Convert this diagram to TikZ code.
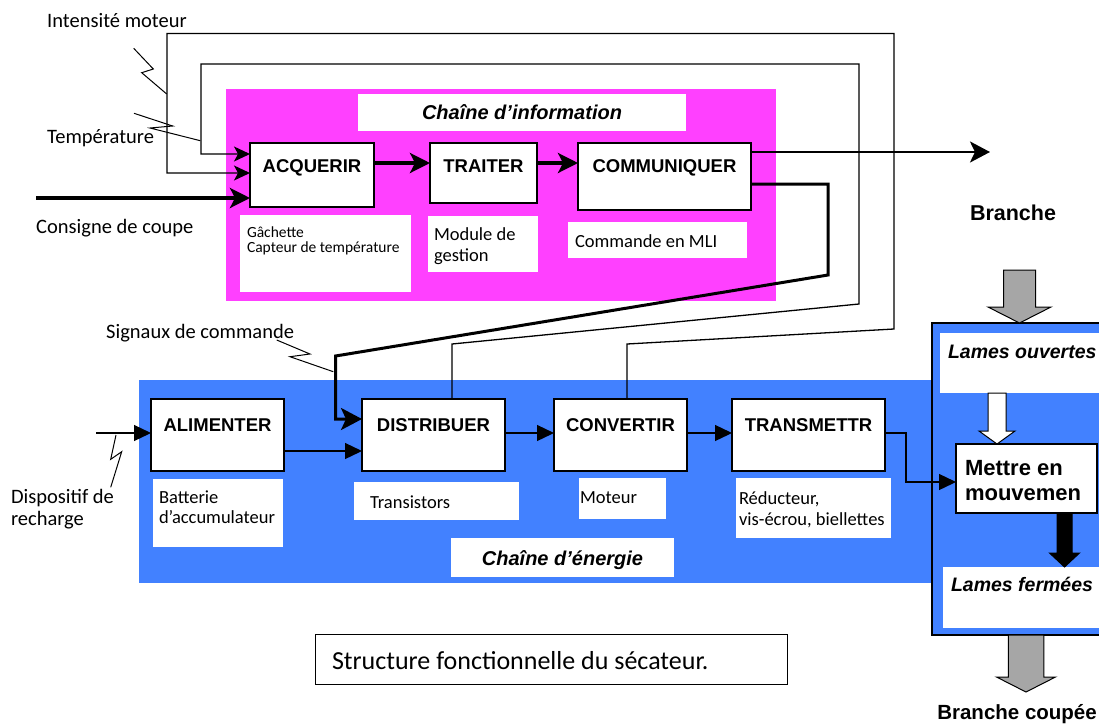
\documentclass[tikz,border=0pt]{standalone}
\usepackage{fontspec}
\setmainfont{Carlito}
\newfontfamily\arialfont{Liberation Sans}
\usepackage{tikz}
\usetikzlibrary{arrows.meta,positioning,calc}
\definecolor{infopink}{HTML}{FF40FF}
\definecolor{energyblue}{HTML}{4281FF}
\definecolor{flowgray}{HTML}{A6A6A6}
\newcommand{\fctfont}{\arialfont\bfseries\fontsize{18.5}{22}\selectfont}
\newcommand{\chainfont}{\arialfont\bfseries\itshape\fontsize{20}{24}\selectfont}
\newcommand{\lamefont}{\arialfont\bfseries\itshape\fontsize{19.5}{23}\selectfont}
\newcommand{\notefont}{\fontsize{18.5}{21}\selectfont}
\newcommand{\lblfont}{\fontsize{20.5}{22}\selectfont}
\newcommand{\blockarrow}[6]{%
  \draw[blockline,fill=#1] let \p1=(#2), \p2=(#3) in
    (\x2-#4,\y1) -- (\x2+#4,\y1) -- (\x2+#4,\y2+#6) -- (\x2+#5,\y2+#6)
    -- (\x2,\y2) -- (\x2-#5,\y2+#6) -- (\x2-#4,\y2+#6) -- cycle;}
\tikzset{
  panel/.style={inner sep=0pt,outer sep=0pt,anchor=north west},
  fctbox/.style n args={3}{draw,fill=white,line width=1.3pt,inner sep=0pt,outer sep=0pt,anchor=north west,font=\fctfont,minimum width=#1,text height=#2,text depth=#3},
  chaintitle/.style n args={3}{fill=white,inner sep=0pt,outer sep=0pt,anchor=north west,font=\chainfont,minimum width=#1,text height=#2,text depth=#3},
  note/.style n args={4}{fill=white,inner sep=0pt,outer sep=0pt,anchor=north west,font=\notefont,
    execute at begin node={\begin{minipage}[t][#2][t]{#1}\raggedright\leftskip=#4\relax\rule{0pt}{#3}},
    execute at end node={\end{minipage}}},
  lbl/.style={inner sep=0pt,anchor=base west,font=\lblfont},
  wire/.style={line width=1.3pt},
  arrow/.style={wire,-{Stealth[length=16pt,width=15pt,inset=4pt]}},
  bigarrow/.style={line width=3.5pt,-{Stealth[length=20pt,width=20pt,inset=5pt]}},
  powarrow/.style={wire,-{Triangle[length=17pt,width=16pt]}},
  zigzag/.style={line width=1pt},
  blockline/.style={draw=black,line width=1pt},
}
\begin{document}
\begin{tikzpicture}[x=1pt,y=-1pt]
  \useasboundingbox (0,0) rectangle (1099,726);
  \node[panel,fill=infopink,minimum width=550pt,minimum height=212pt] (infochain) at (226,89) {};
  \node[panel,fill=energyblue,minimum width=793pt,minimum height=203pt] (energychain) at (139,380) {};
  \node[panel,draw,line width=1.3pt,fill=energyblue,minimum width=175pt,minimum height=312pt] (rbox) at (932,323) {};
  \node[chaintitle={328pt}{25.3pt}{11.7pt}] (infotitle) at (358,94) {Chaîne d’information};
  \node[chaintitle={223pt}{27pt}{12pt}] (energytitle) at (451,538) {Chaîne d’énergie};

  \node[fctbox={124pt}{29pt}{35pt}] (acq) at (250,143) {ACQUERIR};
  \node[fctbox={107pt}{29pt}{31pt},right=56pt of acq.north east,anchor=north west] (trait) {TRAITER};
  \node[fctbox={173pt}{29pt}{38pt},right=41pt of trait.north east,anchor=north west] (comm) {COMMUNIQUER};
  \node[fctbox={133pt}{32pt}{40pt}] (alim) at (151,399) {ALIMENTER};
  \node[fctbox={143pt}{32pt}{40pt},right=78pt of alim.north east,anchor=north west] (distr) {DISTRIBUER};
  \node[fctbox={133pt}{32pt}{40pt},right=49pt of distr.north east,anchor=north west] (conv) {CONVERTIR};
  \node[fctbox={153pt}{32pt}{40pt},right=45pt of conv.north east,anchor=north west] (transm) {TRANSMETTR};

  \node[note={171pt}{77pt}{22.3pt}{7pt},font=\fontsize{15.5}{15.5}\selectfont] (gach) at (240,215) {Gâchette\\Capteur de température};
  \node[note={110pt}{56pt}{24pt}{6pt}] (modu) at (428,216) {Module de\\gestion};
  \node[note={179pt}{36pt}{25pt}{7pt}] (mli) at (568,222) {Commande en MLI};
  \node[note={130pt}{68pt}{24pt}{6pt},font=\fontsize{18.5}{20}\selectfont] (batt) at (153,479) {Batterie\\d’accumulateur};
  \node[note={165pt}{38pt}{26.3pt}{16pt}] (trans) at (354,482) {Transistors};
  \node[note={87pt}{41pt}{25.3pt}{1pt}] (mot) at (579,478) {Moteur};
  \node[note={155pt}{60pt}{26pt}{3pt}] (redu) at (736,478) {Réducteur,\\vis-écrou, biellettes};
  \node[note={165pt}{60pt}{25pt}{8pt},font=\lamefont] (ouv) at (940,333) {Lames ouvertes};
  \node[note={156pt}{61pt}{24pt}{8pt},font=\lamefont] (ferm) at (943,567) {Lames fermées};
  \node[note={141pt}{69pt}{31.5pt}{9pt},draw,line width=1.3pt,font=\arialfont\bfseries\fontsize{22}{25}\selectfont] (mettre) at (956,444) {Mettre en\\mouvemen};
  \node[note={140pt}{50pt}{23pt}{0pt},fill=none,font=\lblfont] (recharge) at (11,480) {Dispositif de\\recharge};
  \node[note={472pt}{50pt}{35pt}{17pt},draw,line width=1pt,font=\fontsize{26}{30}\selectfont] (caption) at (315,634) {Structure fonctionnelle du sécateur.};

  \node[lbl] (intens) at (47,27) {Intensité moteur};
  \node[lbl] (temp) at (47,143) {Température};
  \node[lbl] (consigne) at (36,233) {Consigne de coupe};
  \node[lbl] (signaux) at (106,338) {Signaux de commande};
  \node[lbl,anchor=base,font=\arialfont\bfseries\fontsize{21.5}{24}\selectfont] (branche) at (1013,220) {Branche};
  \node[lbl,anchor=base east,font=\arialfont\bfseries\fontsize{20.5}{24}\selectfont] (coupee) at (1097,719.5) {Branche coupée};

  \coordinate (consignein) at (36,198);
  \coordinate (out) at (990,152);
  \coordinate (rechargein) at (96,433);
  \coordinate (branchein) at (1019,270);
  \coordinate (coupeeout) at (1026,692);

  \draw[bigarrow] (consignein) -- ([yshift=-23pt]acq.west);
  \draw[arrow] ([xshift=18.5pt]distr.north) -- (452,344) -- (859,304) -- (859,64) -- (201,64) -- (201,154) -- ([yshift=21pt]acq.west);
  \draw[arrow] ([xshift=6.5pt]conv.north) -- (627,344) -- (894,329) -- (894,33.5) -- (167,33.5) -- (167,173) -- ([yshift=2pt]acq.west);
  \draw[bigarrow] ([yshift=12pt]acq.east) -- ([yshift=10pt]trait.west);
  \draw[bigarrow] ([yshift=10pt]trait.east) -- ([yshift=13.5pt]comm.west);
  \draw[line width=2.5pt,-{Stealth[length=20pt,width=21pt,inset=5pt]}] ([yshift=24.5pt]comm.east) -- (out);
  \draw[line width=3pt,-{Stealth[length=21pt,width=22pt,inset=5pt]}] ([yshift=-7.5pt]comm.east) -- (828,184) -- (828,275) -- (335.5,356) -- (335.5,419) -- ([yshift=16pt]distr.west);
  \draw[powarrow] (rechargein) -- ([yshift=2pt]alim.west);
  \draw[powarrow] ([yshift=-16pt]alim.east) -- ([yshift=-16pt]distr.west);
  \draw[powarrow] ([yshift=2pt]distr.east) -- ([yshift=2pt]conv.west);
  \draw[powarrow] ([yshift=2pt]conv.east) -- ([yshift=2pt]transm.west);
  \draw[powarrow] ([yshift=2pt]transm.east) -- (906,433) -- (906,482) -- ([yshift=-3.5pt]mettre.west);

  \draw[zigzag] (133.7,48.3) -- (153.3,69) -- (141.7,72.7) -- (166.7,94);
  \draw[zigzag] (134,113.3) -- (172.7,126) -- (150,128) -- (200.3,140.7);
  \draw[zigzag] (276.7,340) -- (310,354) -- (290,356.7) -- (333.3,371.7);
  \draw[zigzag] (116,435) -- (110.7,459.3) -- (121.7,451.7) -- (110.7,487.3);

  \blockarrow{flowgray}{branchein}{rbox.north}{16pt}{31.5pt}{16pt}
  \blockarrow{white}{ouv.south}{[xshift=-29.5pt]mettre.north}{9pt}{18pt}{13pt}
  \blockarrow{black}{mettre.south}{[xshift=43.5pt]ferm.north}{7.5pt}{15pt}{14pt}
  \blockarrow{flowgray}{rbox.south}{coupeeout}{17.75pt}{29.5pt}{15pt}
\end{tikzpicture}
\end{document}
